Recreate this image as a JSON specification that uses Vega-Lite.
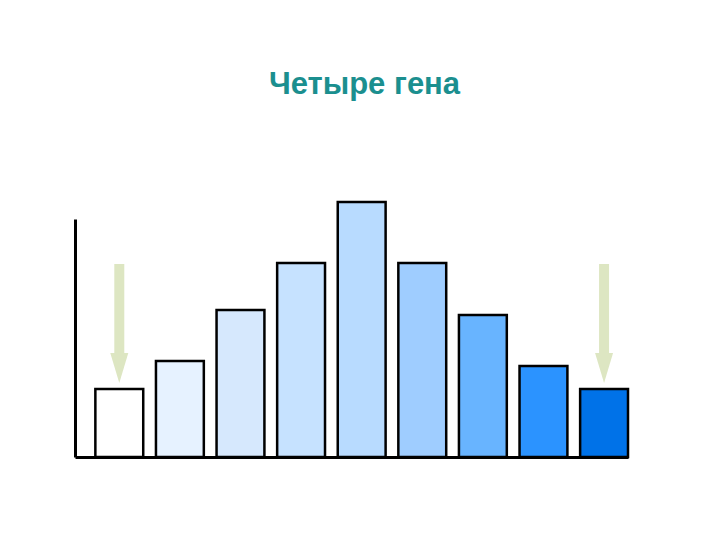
{
  "$schema": "https://vega.github.io/schema/vega-lite/v6.json",
  "autosize": "none",
  "width": 553,
  "height": 238,
  "padding": {"left": 75, "top": 219, "right": 92, "bottom": 83},
  "background": "white",
  "config": {
    "view": {"stroke": null},
    "font": "Liberation Sans"
  },
  "title": {
    "text": "Четыре гена",
    "font": "Liberation Sans",
    "fontSize": 31,
    "fontWeight": "bold",
    "color": "#1b8f8f",
    "anchor": "middle",
    "baseline": "alphabetic",
    "offset": 76,
    "dx": 13
  },
  "datasets": {
    "bars": [
      {"gene": "1", "h": 68, "c": "#ffffff"},
      {"gene": "2", "h": 96, "c": "#e6f2ff"},
      {"gene": "3", "h": 147, "c": "#d6e8fd"},
      {"gene": "4", "h": 194, "c": "#c6e2ff"},
      {"gene": "5", "h": 255, "c": "#b8dbff"},
      {"gene": "6", "h": 194, "c": "#9fcdff"},
      {"gene": "7", "h": 142, "c": "#68b4ff"},
      {"gene": "8", "h": 91, "c": "#2b93ff"},
      {"gene": "9", "h": 68, "c": "#0072e8"}
    ],
    "arrows": [
      {"gene": "1", "top": 193, "neck": 104, "head": 89},
      {"gene": "9", "top": 193, "neck": 104, "head": 89}
    ]
  },
  "layer": [
    {
      "data": {"name": "bars"},
      "mark": {"type": "bar", "stroke": "#000000", "strokeWidth": 2.5},
      "encoding": {
        "x": {
          "field": "gene", "type": "ordinal",
          "scale": {"paddingInner": 0.21, "paddingOuter": 0.168, "align": 1},
          "axis": {"labels": false, "ticks": false, "title": null, "domainColor": "#000000", "domainWidth": 3}
        },
        "y": {
          "field": "h", "type": "quantitative",
          "scale": {"domain": [0, 238], "nice": false},
          "axis": {"labels": false, "ticks": false, "grid": false, "title": null, "domainColor": "#000000", "domainWidth": 3}
        },
        "fill": {"field": "c", "type": "nominal", "scale": null}
      }
    },
    {
      "data": {"name": "arrows"},
      "mark": {"type": "rule", "color": "#dde6c2", "strokeWidth": 10},
      "encoding": {
        "x": {"field": "gene", "type": "ordinal"},
        "y": {"field": "top", "type": "quantitative"},
        "y2": {"field": "neck"}
      }
    },
    {
      "data": {"name": "arrows"},
      "mark": {"type": "point", "shape": "M-0.6,-1 L0.6,-1 L0,1 Z", "filled": true, "color": "#dde6c2", "opacity": 1, "size": 900},
      "encoding": {
        "x": {"field": "gene", "type": "ordinal"},
        "y": {"field": "head", "type": "quantitative"}
      }
    }
  ]
}
